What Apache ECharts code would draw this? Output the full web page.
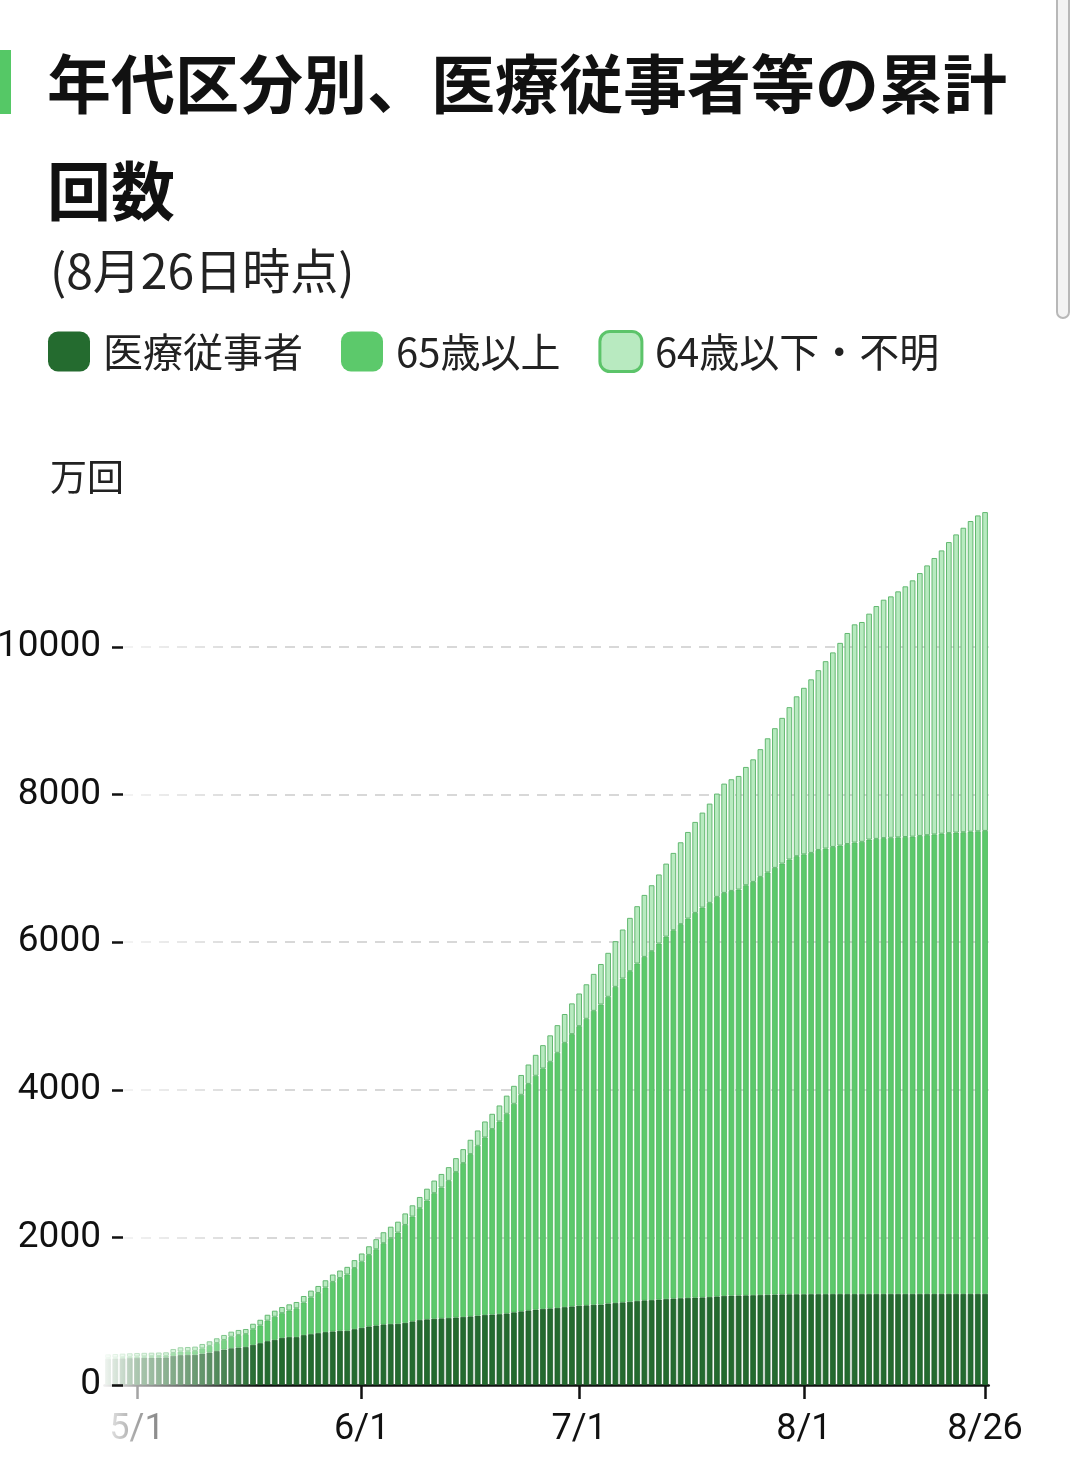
<!DOCTYPE html>
<html>
<head>
<meta charset="utf-8">
<script src="https://cdn.jsdelivr.net/npm/echarts@6/dist/echarts.min.js"></script>
<style>
html,body{margin:0;padding:0;background:#fff;}
#c{width:1080px;height:1457px;}
</style>
</head>
<body>
<div id="c"></div>
<script>
// categories: 4/27 .. 8/26
const monthDays = {4:30,5:31,6:30,7:31,8:31};
const dates = [];
(function(){ let m=4, d=27; while(!(m===8 && d===27)){ dates.push(m+'/'+d); d++; if(d>monthDays[m]){m++; d=1;} } })();

const tickLabels = ['5/1','6/1','7/1','8/1','8/26'];
const yTicks = [0,2000,4000,6000,8000,10000];

// 医療従事者 (万回, cumulative)
const iryo = [355,358,362,365,368,370,371,372,374,395,405,408,410,425,440,460,480,498,508,515,
544,567,594,612,639,649,649,676,689,703,717,726,735,735,757,775,794,807,821,825,
830,843,862,880,890,898,903,907,915,922,930,940,950,955,960,970,985,998,1011,1022,
1032,1038,1045,1055,1065,1075,1080,1088,1090,1105,1112,1120,1128,1138,1147,1150,1158,1165,1172,1176,
1180,1185,1187,1192,1200,1208,1211,1213,1215,1217,1220,1223,1226,1228,1229,1230,1230,1231,1231,1231,
1232,1232,1232,1232,1232,1232,1233,1233,1233,1233,1233,1233,1233,1234,1234,1234,1234,1234,1234,1234,
1234,1234];
// 65歳以上
const over65 = [12,14,15,17,18,18,19,20,21,38,48,49,52,71,90,108,130,155,168,174,
211,240,278,313,334,359,390,440,498,544,604,671,714,762,827,895,969,1032,1100,1164,
1235,1326,1420,1515,1609,1701,1773,1859,1969,2084,2198,2301,2404,2512,2611,2705,2825,2934,3069,3168,
3257,3341,3456,3581,3689,3787,3882,3982,4066,4155,4283,4388,4479,4573,4654,4728,4824,4910,4990,5068,
5140,5212,5282,5341,5414,5460,5484,5500,5557,5600,5665,5722,5781,5837,5891,5935,5960,5979,6019,6038,
6059,6077,6098,6118,6128,6158,6167,6177,6182,6187,6192,6197,6207,6216,6226,6236,6244,6251,6256,6263,
6269,6274];
// 64歳以下・不明
const under64 = [48,48,48,48,48,48,48,48,48,55,58,58,58,60,62,65,68,70,70,70,
75,77,80,82,84,85,86,90,92,95,98,100,102,104,108,112,117,137,149,156,
148,156,153,153,161,171,184,186,190,190,195,208,217,208,217,246,244,269,263,284,
316,359,375,391,417,443,468,501,549,596,619,664,723,777,840,894,936,990,1048,1110,
1174,1233,1287,1345,1400,1481,1513,1540,1603,1661,1731,1818,1893,1975,2065,2167,2257,2352,2436,2539,
2636,2747,2860,2957,2979,3062,3155,3231,3271,3334,3397,3473,3562,3656,3746,3839,3944,4041,4126,4210,
4280,4320];

const seriesNames = ['医療従事者','65歳以上','64歳以下・不明'];

const NUM_FONT = "Roboto,'Noto Sans',sans-serif";
const CJK_FONT = "'Noto Sans CJK JP','Noto Sans',sans-serif";

const chart = echarts.init(document.getElementById('c'), null, {renderer:'canvas'});
const showTick = (i, v) => tickLabels.indexOf(v) >= 0;

chart.setOption({
  animation: false,
  backgroundColor: '#fff',
  title: [
    {text: '年代区分別、医療従事者等の累計\n回数', left: 47, top: 30, padding: 0,
     textStyle: {fontSize: 64, fontWeight: 'bold', fontFamily: CJK_FONT, color: '#111', lineHeight: 107}},
    {text: '(8月26日時点)', left: 50, top: 244, padding: 0,
     textStyle: {fontSize: 48, fontWeight: 'normal', fontFamily: CJK_FONT, color: '#222', lineHeight: 54}},
    {text: '万回', left: 50, top: 458, padding: 0,
     textStyle: {fontSize: 37, fontWeight: 'normal', fontFamily: CJK_FONT, color: '#222'}}
  ],
  legend: {
    left: 48, top: 330, padding: 0,
    itemWidth: 42, itemHeight: 40, itemGap: 38, icon: 'roundRect',
    selectedMode: false,
    textStyle: {fontSize: 40, fontFamily: CJK_FONT, color: '#222', padding: [0,0,0,8]},
    data: [
      {name: seriesNames[0], itemStyle: {borderWidth: 0}},
      {name: seriesNames[1], itemStyle: {borderWidth: 0}},
      {name: seriesNames[2], itemStyle: {borderColor: '#5cc46a', borderWidth: 3}}
    ]
  },
  grid: [
    {left: 104.4, right: 91.3, top: 499.4, bottom: 72, outerBoundsMode: 'none', containLabel: false},
    {left: 123, right: 91.3, top: 647, bottom: 72, outerBoundsMode: 'none', containLabel: false}
  ],
  xAxis: [
    {gridIndex: 0, type: 'category', data: dates, z: 0,
     axisLine: {show: true, lineStyle: {color: '#111', width: 2.5}},
     axisTick: {show: true, interval: showTick, alignWithLabel: true, length: 14, lineStyle: {color: '#111', width: 2.5}},
     axisLabel: {interval: showTick, fontSize: 36, fontFamily: NUM_FONT, color: '#111', margin: 27},
     splitLine: {show: false}},
    {gridIndex: 1, type: 'value', show: false}
  ],
  yAxis: [
    {gridIndex: 0, type: 'value', min: 0, max: 12000, show: false, splitLine: {show: false}},
    {gridIndex: 1, type: 'value', min: 0, max: 10000, interval: 2000, z: 10,
     axisLine: {show: false},
     axisTick: {show: true, length: 11, lineStyle: {color: '#111', width: 2.5}},
     axisLabel: {fontSize: 37, fontFamily: NUM_FONT, color: '#111', margin: 22,
                 formatter: v => yTicks.indexOf(v) >= 0 ? String(v) : ''},
     splitLine: {show: false}},
    {gridIndex: 1, type: 'value', min: 0, max: 10000, interval: 2000, z: 0,
     axisLine: {show: false}, axisTick: {show: false}, axisLabel: {show: false},
     splitLine: {show: true, lineStyle: {color: '#d8d8d8', width: 2, type: [10, 8]}}}
  ],
  series: [
    {name: seriesNames[0], type: 'bar', stack: 'total', data: iryo, barCategoryGap: '22%',
     itemStyle: {color: '#246b2f', borderColor: '#1e5c28', borderWidth: 0.8}},
    {name: seriesNames[1], type: 'bar', stack: 'total', data: over65, barCategoryGap: '22%',
     itemStyle: {color: '#5cc96b', borderColor: '#4fb85e', borderWidth: 0.8}},
    {name: seriesNames[2], type: 'bar', stack: 'total', data: under64, barCategoryGap: '22%',
     itemStyle: {color: '#b8eac0', borderColor: '#62b870', borderWidth: 1}}
  ],
  graphic: [
    {type: 'rect', silent: true, z: 5, shape: {x: 0, y: 50, width: 11, height: 64}, style: {fill: '#55c866'}},
    {type: 'rect', silent: true, z: 5, shape: {x: 100, y: 380, width: 160, height: 1077},
     style: {fill: new echarts.graphic.LinearGradient(0, 0, 1, 0, [
       {offset: 0, color: 'rgba(255,255,255,0.97)'},
       {offset: 0.23, color: 'rgba(255,255,255,0.62)'},
       {offset: 1, color: 'rgba(255,255,255,0)'}
     ])}},
    {type: 'rect', silent: true, z: 5, shape: {x: 1057, y: -12, width: 12, height: 330, r: 6},
     style: {fill: '#f3f3f3', stroke: '#b8b8b8', lineWidth: 2}}
  ]
});
</script>
</body>
</html>
